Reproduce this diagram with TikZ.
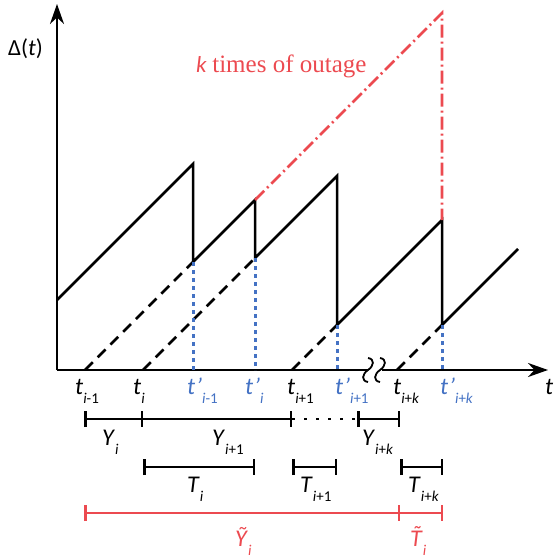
\documentclass[tikz,border=0pt]{standalone}
\usepackage{fontspec}
\setmainfont{Carlito}
\newfontfamily\timesfont{Liberation Serif}
\usepackage{xcolor}
\definecolor{OutageRed}{HTML}{EC4A50}
\definecolor{ProbeBlue}{HTML}{4472C4}
\usepackage{tikz}
\usetikzlibrary{arrows.meta, calc}
\tikzstyle{axis} = [line width=2.5pt, -{Stealth[length=20pt,width=14pt]}]
\tikzstyle{saw} = [line width=2.5pt, line join=miter]
\tikzstyle{proj} = [line width=2.5pt, dash pattern=on 11pt off 7pt]
\tikzstyle{drop} = [line width=3pt, color=ProbeBlue, dash pattern=on 4pt off 4pt]
\tikzstyle{outage} = [line width=2.6pt, color=OutageRed, dash pattern=on 13pt off 4pt on 2pt off 4pt]
\tikzstyle{span} = [line width=2.5pt, {Bar[width=16pt]}-{Bar[width=16pt]}]
\tikzstyle{spanon} = [line width=2.5pt, -{Bar[width=16pt]}]
\tikzstyle{lbl} = [anchor=base west, inner sep=0pt, font=\fontsize{24}{28}\selectfont]
\newcommand{\lsub}[1]{\raisebox{-0.4em}{\fontsize{15}{15}\selectfont #1}}

\begin{document}
\begin{tikzpicture}[x=1pt, y=-1pt]
        \useasboundingbox (0,0) rectangle (555,559);

        % --- axes and time instants ---
        \coordinate (O) at (57,370);
        \coordinate (ytop) at (57,4);
        \coordinate (xend) at (548,370);
        \coordinate (brkL) at (368,370);
        \coordinate (brkR) at (382,370);
        \coordinate (ta) at (85,370);
        \coordinate (tb) at (143,370);
        \coordinate (tc) at (292,370);
        \coordinate (td) at (397,370);
        \coordinate (pa) at (193,370);
        \coordinate (pb) at (255,370);
        \coordinate (pc) at (337,370);
        \coordinate (pd) at (442,370);

        % --- sawtooth corners ---
        \coordinate (s0) at (57,300);
        \coordinate (s1) at (193,164);
        \coordinate (s2) at (193,262);
        \coordinate (s3) at (255,200);
        \coordinate (s4) at (255,258);
        \coordinate (s5) at (337,176);
        \coordinate (s6) at (337,325);
        \coordinate (s7) at (442,220);
        \coordinate (s8) at (442,325);
        \coordinate (s9) at (518,249);
        \coordinate (peak) at (442,13);

        \draw [axis] (O) -- (ytop);
        \draw [line width=2.5pt] (O) -- (brkL);
        \draw [axis] (brkR) -- (xend);
        \draw [line width=1.8pt] ($(brkL)+(0,-12)$) .. controls +(7,1) and +(6,-4) .. (brkL) .. controls +(-6,4) and +(-7,-1) .. ($(brkL)+(0,12)$);
        \draw [line width=1.8pt] ($(brkR)+(-2,-12)$) .. controls +(7,1) and +(6,-4) .. ($(brkR)+(-2,0)$) .. controls +(-6,4) and +(-7,-1) .. ($(brkR)+(-2,12)$);

        % --- age process ---
        \draw [saw] (s0) -- (s1) -- (s2) -- (s3) -- (s4) -- (s5) -- (s6) -- (s7) -- (s8) -- (s9);
        \draw [proj] (ta) -- (s2);
        \draw [proj] (tb) -- (s4);
        \draw [proj] (tc) -- (s6);
        \draw [proj] (td) -- (s8);
        \draw [drop] (s2) -- (pa);
        \draw [drop] (s4) -- (pb);
        \draw [drop] (s6) -- (pc);
        \draw [drop] (s8) -- (pd);
        \draw [outage] (s3) -- (peak) -- (s7);

        % Labels on the axes
        \node [lbl, font=\fontsize{23}{28}\selectfont] (delta) at (8,56) {Δ(\textit{t})};
        \node [lbl, text=OutageRed] (ktimes) at (196,73) {{\fontsize{23}{24}\selectfont\textit{k}} {\timesfont\fontsize{25}{28}\selectfont times of outage}};
        \node [lbl] (lt) at (545,394) {\textit{t}};
        \node [lbl] (lta) at (75,394) {\textit{t}\lsub{\textit{i}-1}};
        \node [lbl] (ltb) at (133,394) {\textit{t}\lsub{\textit{i}}};
        \node [lbl] (ltc) at (287,394) {\textit{t}\lsub{\textit{i}+1}};
        \node [lbl] (ltd) at (393,394) {\textit{t}\lsub{\textit{i}+\textit{k}}};
        \node [lbl, text=ProbeBlue] (lpa) at (187,394) {\textit{t’}\lsub{\textit{i}-1}};
        \node [lbl, text=ProbeBlue] (lpb) at (245,394) {\textit{t’}\lsub{\textit{i}}};
        \node [lbl, text=ProbeBlue] (lpc) at (335,394) {\textit{t’}\lsub{\textit{i}+1}};
        \node [lbl, text=ProbeBlue] (lpd) at (440,394) {\textit{t’}\lsub{\textit{i}+\textit{k}}};

        % --- inter-arrival and service spans ---
        \coordinate (ya) at (84,419);
        \coordinate (yb) at (143,419);
        \coordinate (yc) at (292,419);
        \coordinate (yd) at (357,419);
        \coordinate (ye) at (400,419);
        \draw [span] (ya) -- (yb);
        \draw [spanon] (yb) -- (yc);
        \draw [line width=2.5pt, dash pattern=on 3pt off 9pt] (yc) -- (yd);
        \draw [span] (yd) -- (ye);
        \node [lbl] (lya) at (102,445) {\textit{Y}\lsub{\textit{i}}};
        \node [lbl] (lyb) at (212,445) {\textit{Y}\lsub{\textit{i}+1}};
        \node [lbl] (lyc) at (362,445) {\textit{Y}\lsub{\textit{i}+\textit{k}}};

        \coordinate (sa) at (143,467);
        \coordinate (sb) at (255,467);
        \coordinate (sc) at (292,467);
        \coordinate (sd) at (337,467);
        \coordinate (se) at (400,467);
        \coordinate (sf) at (443,467);
        \draw [span] (sa) -- (sb);
        \draw [span] (sc) -- (sd);
        \draw [span] (se) -- (sf);
        \node [lbl] (lsa) at (187,492) {\textit{T}\lsub{\textit{i}}};
        \node [lbl] (lsb) at (300,492) {\textit{T}\lsub{\textit{i}+1}};
        \node [lbl] (lsc) at (408,492) {\textit{T}\lsub{\textit{i}+\textit{k}}};

        \coordinate (ra) at (84,513);
        \coordinate (rb) at (400,513);
        \coordinate (rc) at (443,513);
        \draw [span, color=OutageRed] (ra) -- (rb);
        \draw [spanon, color=OutageRed] (rb) -- (rc);
        \node [lbl, text=OutageRed] (lra) at (235,546) {\textit{Ỹ}\lsub{\textit{i}}};
        \node [lbl, text=OutageRed] (lrb) at (410,546) {\textit{\accent"02DC T}\lsub{\textit{i}}};
\end{tikzpicture}
\end{document}
